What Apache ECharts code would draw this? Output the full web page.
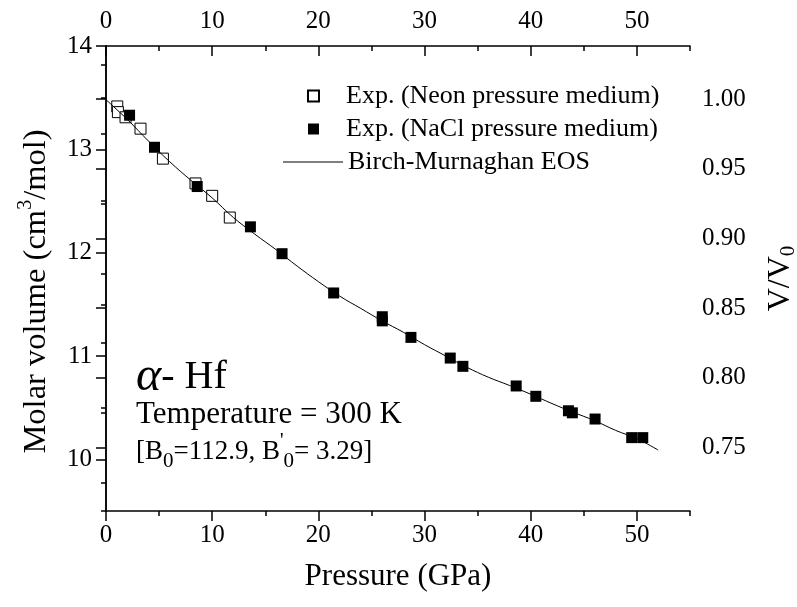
<!DOCTYPE html>
<html>
<head>
<meta charset="utf-8">
<script src="https://cdn.jsdelivr.net/npm/echarts@6/dist/echarts.min.js"></script>
<style>
  html, body { margin: 0; padding: 0; background: #fff; }
  #chart { width: 797px; height: 607px; }
</style>
</head>
<body>
<div id="chart"></div>
<script>
// Neon pressure medium (open squares)
var neonP = [1.06, 1.12, 1.84, 3.25, 5.36, 8.43, 10.0, 11.66];
var neonV = [13.415, 13.36, 13.31, 13.20, 12.91, 12.67, 12.55, 12.34];
// NaCl pressure medium (filled squares)
var naclP = [2.22, 4.57, 8.59, 13.6, 16.58, 21.44, 26.02, 26.02, 28.72, 32.42, 33.61, 38.63, 40.48, 43.55, 43.92, 46.06, 49.51, 50.55];
var naclV = [13.33, 13.02, 12.64, 12.25, 11.99, 11.61, 11.38, 11.34, 11.18, 10.98, 10.90, 10.71, 10.61, 10.47, 10.45, 10.39, 10.21, 10.21];
// Birch-Murnaghan EOS curve
var bmP = [0, 2, 4, 6, 8, 10, 12, 14, 16, 18, 20, 22, 24, 26, 28, 30, 32, 34, 36, 38, 40, 42, 44, 46, 48, 50, 52];
var bmV = [13.48, 13.29, 13.08, 12.88, 12.70, 12.53, 12.34, 12.18, 12.03, 11.87, 11.72, 11.58, 11.46, 11.34, 11.23, 11.11, 11.00, 10.89, 10.795, 10.715, 10.63, 10.54, 10.455, 10.375, 10.28, 10.20, 10.09];

// tick labels
var xTicks = [0, 10, 20, 30, 40, 50];
var xMinor = [5, 15, 25, 35, 45, 55];
var yTicks = [10, 11, 12, 13, 14];
var yMinor = [9.5, 10.5, 11.5, 12.5, 13.5];
var rTicks = [0.75, 0.80, 0.85, 0.90, 0.95, 1.00];
var rMinor = [0.725, 0.775, 0.825, 0.875, 0.925, 0.975, 1.025];

var V0 = 13.485;
var yMin = 9.5, yMax = 14;

var NEON = 'Exp. (Neon pressure medium)';
var NACL = 'Exp. (NaCl pressure medium)';
var BM = 'Birch-Murnaghan EOS';

function pairs(xs, ys) {
  return xs.map(function (x, i) { return [x, ys[i]]; });
}

var FONT = 'Liberation Serif';
var lineSty = { color: '#000', width: 1.5 };

function xAx(pos, ticks, len, inside, labels) {
  return {
    type: 'value', position: pos, min: 0, max: 55,
    axisLine: { show: !!labels, lineStyle: lineSty },
    axisTick: { inside: inside, length: len, customValues: ticks, lineStyle: lineSty },
    axisLabel: labels ? { customValues: labels, color: '#000', fontFamily: FONT, fontSize: 25, margin: 12 } : { show: false },
    splitLine: { show: false }
  };
}

var xAxes = [
  xAx('bottom', xTicks, 10, false, xTicks),
  xAx('bottom', xMinor, 5, false, null),
  xAx('top', xTicks, 10, true, xTicks),
  xAx('top', xMinor, 5, true, null)
];
xAxes[0].name = 'Pressure (GPa)';
xAxes[0].nameLocation = 'middle';
xAxes[0].nameGap = 50;
xAxes[0].nameTextStyle = { color: '#000', fontFamily: FONT, fontSize: 31 };

var yAxes = [
  {
    type: 'value', position: 'left', min: yMin, max: yMax,
    axisLine: { lineStyle: lineSty },
    axisTick: { inside: false, length: 10, customValues: yTicks, lineStyle: lineSty },
    axisLabel: { customValues: yTicks, color: '#000', fontFamily: FONT, fontSize: 25, margin: 14 },
    splitLine: { show: false },
    name: 'Molar volume (cm{sup|3}/mol)',
    nameLocation: 'middle', nameGap: 50, nameRotate: 90,
    nameTextStyle: {
      color: '#000', fontFamily: FONT, fontSize: 32.5, lineHeight: 40, padding: [0, 26, 0, 0],
      rich: { sup: { fontFamily: FONT, fontSize: 20, color: '#000', verticalAlign: 'top', lineHeight: 20 } }
    }
  },
  {
    type: 'value', position: 'left', min: yMin, max: yMax,
    axisLine: { show: false },
    axisTick: { inside: false, length: 5, customValues: yMinor, lineStyle: lineSty },
    axisLabel: { show: false }, splitLine: { show: false }
  },
  {
    type: 'value', position: 'right', min: yMin / V0, max: yMax / V0,
    axisLine: { lineStyle: lineSty },
    axisTick: { inside: true, length: 10, customValues: rTicks, lineStyle: lineSty },
    axisLabel: {
      customValues: rTicks, color: '#000', fontFamily: FONT, fontSize: 25, margin: 12,
      formatter: function (v) { return v.toFixed(2); }
    },
    splitLine: { show: false },
    name: 'V/V{sub|0}',
    nameLocation: 'middle', nameGap: 73, nameRotate: 90,
    nameTextStyle: {
      color: '#000', fontFamily: FONT, fontSize: 32, lineHeight: 36,
      rich: { sub: { fontFamily: FONT, fontSize: 21, color: '#000', verticalAlign: 'bottom', lineHeight: 21 } }
    }
  },
  {
    type: 'value', position: 'right', min: yMin / V0, max: yMax / V0,
    axisLine: { show: false },
    axisTick: { inside: true, length: 5, customValues: rMinor, lineStyle: lineSty },
    axisLabel: { show: false }, splitLine: { show: false }
  }
];

var legendText = { color: '#000', fontFamily: FONT, fontSize: 26, lineHeight: 26 };

var chart = echarts.init(document.getElementById('chart'));
chart.setOption({
  animation: false,
  backgroundColor: '#fff',
  grid: { left: 106, right: 107, top: 46, bottom: 96, outerBoundsMode: 'none', containLabel: false },
  xAxis: xAxes,
  yAxis: yAxes,
  legend: [
    {
      data: [NEON, NACL],
      orient: 'vertical', left: 302, top: 78,
      itemWidth: 11, itemHeight: 11, itemGap: 7,
      textStyle: Object.assign({ padding: [0, 0, 0, 22] }, legendText)
    },
    {
      data: [{ name: BM, icon: 'rect' }],
      orient: 'vertical', left: 278, top: 144,
      itemWidth: 60, itemHeight: 1.2,
      textStyle: legendText
    }
  ],
  graphic: [
    {
      type: 'text', x: 136, y: 377,
      style: {
        text: '{a|α}- Hf', fill: '#000', fontFamily: FONT, fontSize: 40, verticalAlign: 'middle',
        rich: { a: { fontFamily: FONT, fontStyle: 'italic', fontSize: 48, fill: '#000' } }
      }
    },
    {
      type: 'text', x: 136, y: 415,
      style: { text: 'Temperature = 300 K', fill: '#000', fontFamily: FONT, fontSize: 31, verticalAlign: 'middle' }
    },
    {
      type: 'text', x: 136, y: 452,
      style: {
        text: '[B{sub|0}=112.9, B{sup|\'}{sub|0}= 3.29]', fill: '#000', fontFamily: FONT, fontSize: 27,
        lineHeight: 40, verticalAlign: 'middle',
        rich: {
          sub: { fontFamily: FONT, fontSize: 21, fill: '#000', verticalAlign: 'bottom', lineHeight: 21 },
          sup: { fontFamily: FONT, fontSize: 20, fill: '#000', verticalAlign: 'top', lineHeight: 20 }
        }
      }
    }
  ],
  series: [
    {
      name: NEON, type: 'scatter', symbol: 'rect', symbolSize: 11,
      itemStyle: { color: '#fff', borderColor: '#000', borderWidth: 1, opacity: 1 },
      data: pairs(neonP, neonV), z: 2
    },
    {
      name: NACL, type: 'scatter', symbol: 'rect', symbolSize: 11,
      itemStyle: { color: '#000', opacity: 1 },
      data: pairs(naclP, naclV), z: 2
    },
    {
      name: BM, type: 'line', smooth: 0.4, symbol: 'none', showSymbol: false,
      lineStyle: { color: '#000', width: 1 }, itemStyle: { color: '#000' },
      data: pairs(bmP, bmV), z: 3
    }
  ]
});
</script>
</body>
</html>
